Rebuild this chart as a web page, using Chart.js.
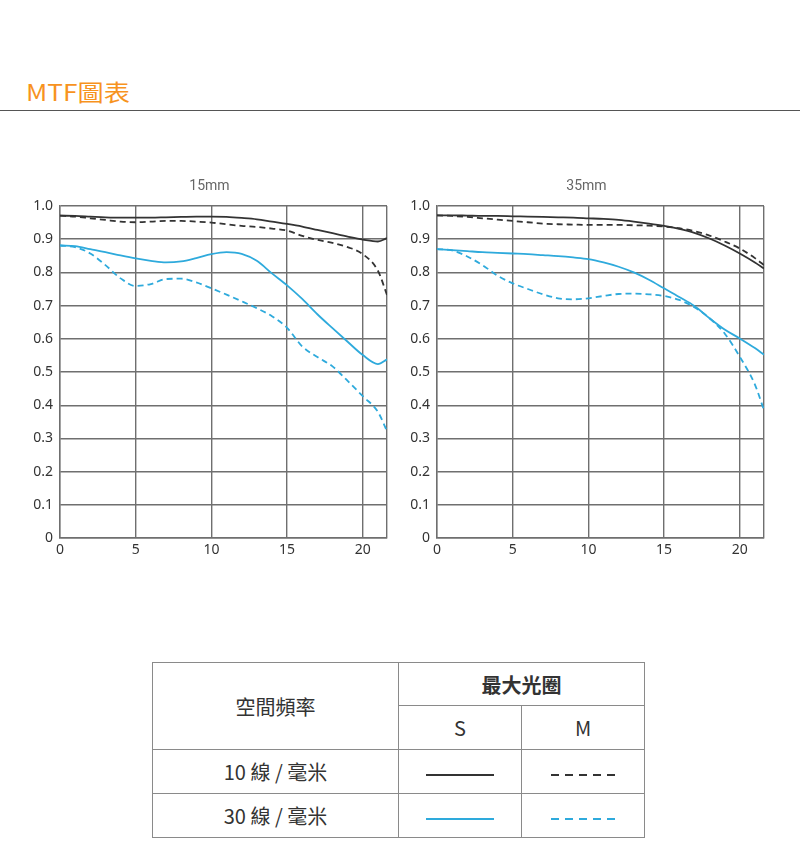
<!DOCTYPE html>
<html>
<head>
<meta charset="utf-8">
<script src="https://cdn.jsdelivr.net/npm/chart.js@4.4.1/dist/chart.umd.min.js"></script>
<style>
  body { margin: 0; background: #fff; font-family: "Noto Sans CJK TC", "Noto Sans", sans-serif; }
  #page { position: relative; width: 800px; height: 846px; overflow: hidden; }
  #heading { position: absolute; left: 26px; top: 76px; font-size: 23px; color: #f7931e; line-height: 30px;
             transform: scaleX(1.14); transform-origin: left top; }
  #rule { position: absolute; left: 0; top: 110px; width: 800px; height: 1px; background: #555; }
  .box { position: absolute; top: 170px; width: 400px; height: 400px; }
  #legendTable { position: absolute; left: 152px; top: 662px; border-collapse: collapse; color: #333; font-size: 20px; }
  #legendTable td { border: 1px solid #8a8a8a; text-align: center; padding: 0; }
  .swatch { display: inline-block; width: 68px; height: 2px; vertical-align: middle; }
</style>
</head>
<body>
<div id="page">
  <div id="heading">MTF圖表</div>
  <div id="rule"></div>
  <div class="box" style="left:0px"><canvas id="chart15"></canvas></div>
  <div class="box" style="left:377px"><canvas id="chart35"></canvas></div>
  <table id="legendTable">
    <tr style="height:43px">
      <td rowspan="2" style="width:245px">空間頻率</td>
      <td colspan="2" style="font-weight:bold">最大光圈</td>
    </tr>
    <tr style="height:44px">
      <td style="width:122px">S</td>
      <td style="width:122px">M</td>
    </tr>
    <tr style="height:44px">
      <td>10 線 / 毫米</td>
      <td><span class="swatch" id="swS10"></span></td>
      <td><span class="swatch" id="swM10"></span></td>
    </tr>
    <tr style="height:44px">
      <td>30 線 / 毫米</td>
      <td><span class="swatch" id="swS30"></span></td>
      <td><span class="swatch" id="swM30"></span></td>
    </tr>
  </table>
</div>
<script>
// spatial frequency (lines/mm), shared by all curves
const freq = [0, 1, 2, 3, 4, 5, 6, 7, 8, 9, 10, 11, 12, 13, 14, 15, 16, 17, 18, 19, 20, 21, 21.6];

// 15mm
const s10_15 = [0.971, 0.970, 0.968, 0.966, 0.965, 0.965, 0.965, 0.966, 0.967, 0.968, 0.968, 0.967, 0.964, 0.960, 0.953, 0.946, 0.938, 0.928, 0.918, 0.908, 0.899, 0.893, 0.903];
const m10_15 = [0.971, 0.968, 0.963, 0.958, 0.953, 0.951, 0.953, 0.955, 0.955, 0.953, 0.950, 0.945, 0.940, 0.937, 0.932, 0.926, 0.910, 0.898, 0.889, 0.876, 0.855, 0.805, 0.732];
const s30_15 = [0.881, 0.879, 0.870, 0.861, 0.851, 0.842, 0.835, 0.830, 0.833, 0.843, 0.855, 0.861, 0.856, 0.835, 0.797, 0.761, 0.720, 0.674, 0.632, 0.591, 0.551, 0.524, 0.538];
const m30_15 = [0.881, 0.876, 0.857, 0.822, 0.782, 0.759, 0.765, 0.780, 0.781, 0.770, 0.752, 0.733, 0.713, 0.692, 0.668, 0.633, 0.577, 0.545, 0.517, 0.473, 0.427, 0.380, 0.322];

// 35mm
const s10_35 = [0.972, 0.972, 0.971, 0.970, 0.970, 0.969, 0.968, 0.967, 0.966, 0.965, 0.963, 0.961, 0.958, 0.953, 0.947, 0.940, 0.931, 0.919, 0.902, 0.881, 0.857, 0.830, 0.812];
const m10_35 = [0.972, 0.970, 0.967, 0.963, 0.959, 0.955, 0.951, 0.947, 0.945, 0.944, 0.943, 0.943, 0.943, 0.942, 0.941, 0.938, 0.933, 0.924, 0.911, 0.893, 0.872, 0.843, 0.822];
const s30_35 = [0.870, 0.867, 0.864, 0.861, 0.859, 0.857, 0.855, 0.852, 0.849, 0.845, 0.840, 0.830, 0.817, 0.800, 0.778, 0.752, 0.726, 0.699, 0.662, 0.628, 0.601, 0.572, 0.552];
const m30_35 = [0.870, 0.866, 0.848, 0.822, 0.790, 0.767, 0.750, 0.734, 0.722, 0.719, 0.722, 0.729, 0.735, 0.736, 0.734, 0.729, 0.717, 0.695, 0.662, 0.616, 0.546, 0.462, 0.385];

const xTicks = [0, 5, 10, 15, 20, 21.6];

const black = '#333333';
const blue = '#2eaadc';
const dash = [6, 4];

function pts(ys) {
    return freq.map((f, i) => ({ x: f, y: ys[i] }));
}

function line(label, ys, color, dashed) {
    return {
        label: label,
        data: pts(ys),
        borderColor: color,
        borderWidth: 1.8,
        borderDash: dashed ? dash : [],
        pointRadius: 0,
        cubicInterpolationMode: 'monotone',
        fill: false
    };
}

function makeChart(id, title, s10, m10, s30, m30) {
    return new Chart(document.getElementById(id), {
        type: 'line',
        data: {
            datasets: [
                line('S 10', s10, black, false),
                line('M 10', m10, black, true),
                line('S 30', s30, blue, false),
                line('M 30', m30, blue, true)
            ]
        },
        options: {
            responsive: true,
            maintainAspectRatio: false,
            animation: false,
            layout: { padding: { left: 32, right: 13, top: 0, bottom: 12 } },
            plugins: {
                legend: { display: false },
                tooltip: { enabled: false },
                title: {
                    display: true,
                    text: title,
                    color: '#666',
                    font: { size: 14, weight: 'normal', family: 'Roboto, "Noto Sans", sans-serif' },
                    padding: { top: 8, bottom: 11.2 }
                }
            },
            scales: {
                x: {
                    type: 'linear',
                    min: 0,
                    max: 21.6,
                    afterBuildTicks: (scale) => { scale.ticks = xTicks.map(v => ({ value: v })); },
                    afterFit: (scale) => { scale.height = 20; },
                    grid: { color: '#6f6f6f', lineWidth: 1.4, drawTicks: false },
                    border: { color: '#6f6f6f', width: 1.4 },
                    ticks: {
                        padding: 4,
                        color: '#333',
                        font: { size: 14, family: '"Noto Sans", sans-serif' },
                        callback: (v) => (v === 21.6 ? '' : v)
                    }
                },
                y: {
                    min: 0,
                    max: 1,
                    afterFit: (scale) => { scale.width = 28; },
                    grid: { color: '#6f6f6f', lineWidth: 1.4, drawTicks: false },
                    border: { color: '#6f6f6f', width: 1.4 },
                    ticks: {
                        stepSize: 0.1,
                        padding: 7,
                        color: '#333',
                        font: { size: 14, family: '"Noto Sans", sans-serif' },
                        callback: (v) => (v === 0 ? '0' : v.toFixed(1))
                    }
                }
            }
        }
    });
}

makeChart('chart15', '15mm', s10_15, m10_15, s30_15, m30_15);
makeChart('chart35', '35mm', s10_35, m10_35, s30_35, m30_35);

// legend swatches
function swatch(id, color, dashed) {
    const el = document.getElementById(id);
    if (dashed) {
        el.style.background = `repeating-linear-gradient(to right, ${color} 0 8px, transparent 8px 14px)`;
        el.style.width = '64px';
    } else {
        el.style.background = color;
    }
}
swatch('swS10', black, false);
swatch('swM10', black, true);
swatch('swS30', blue, false);
swatch('swM30', blue, true);
</script>
</body>
</html>
